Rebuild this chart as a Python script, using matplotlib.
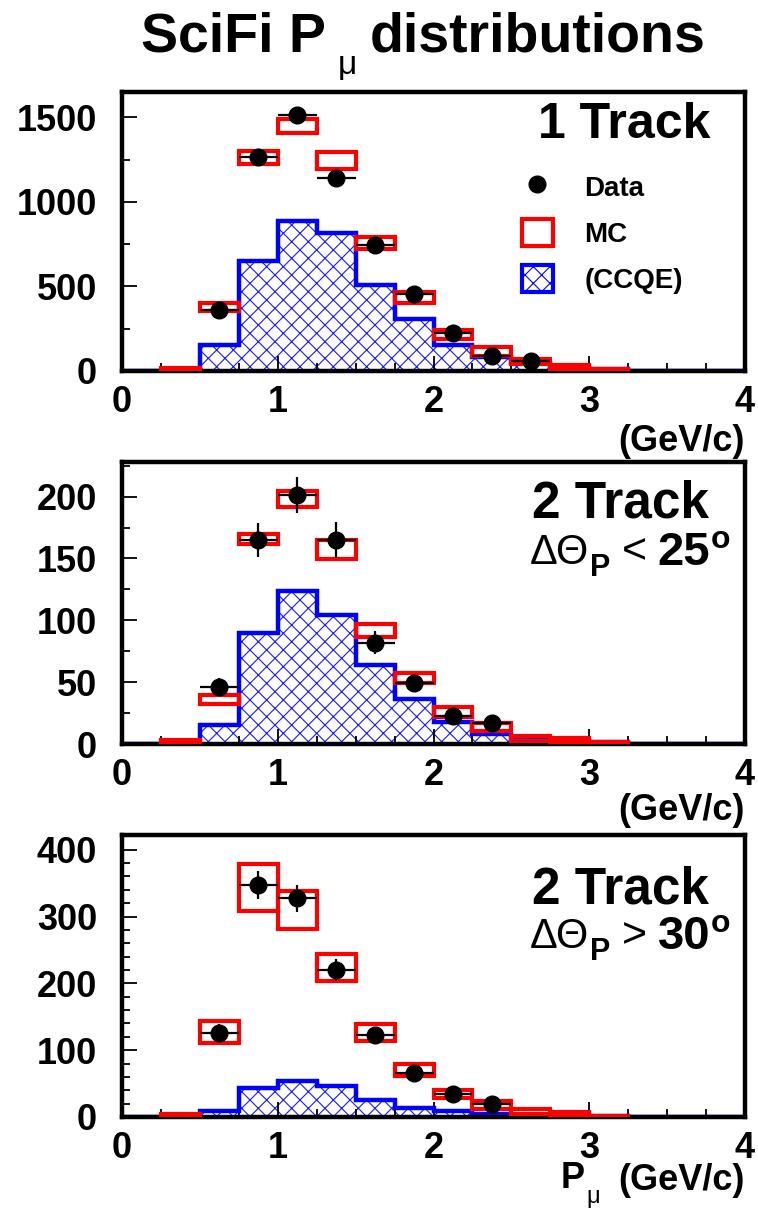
import numpy as np
import matplotlib
matplotlib.use("Agg")
import matplotlib.pyplot as plt
from matplotlib.lines import Line2D
from matplotlib.patches import Patch
from matplotlib.ticker import MultipleLocator

plt.rcParams['font.family'] = ['Liberation Sans', 'DejaVu Sans']
plt.rcParams['font.weight'] = 'bold'
plt.rcParams['hatch.linewidth'] = 0.8

# ---------------- data ----------------
bin_edges = [0.0, 0.25, 0.5, 0.75, 1.0, 1.25, 1.5, 1.75, 2.0, 2.25, 2.5, 2.75, 3.0, 3.25, 3.5, 3.75, 4.0]
data_x = [0.625, 0.875, 1.125, 1.375, 1.625, 1.875, 2.125, 2.375, 2.625]

# 1 Track
data1 = [362, 1265, 1512, 1142, 743, 456, 223, 91, 59]
data1_err = [19, 36, 39, 34, 27, 21, 15, 10, 8]
mc1 = [0, 12, 377, 1263, 1449, 1245, 757, 435, 217, 115, 55, 24, 6, 0, 0, 0]
mc1_err = [0, 8, 25, 38, 43, 52, 33, 32, 27, 24, 16, 12, 4, 0, 0, 0]
ccqe1 = [0, 0, 154, 648, 886, 816, 510, 308, 154, 85, 45, 20, 10, 2, 0, 0]

# 2 Track, dTheta < 25
data2 = [46, 165, 201, 165, 82, 49.5, 23, 17]
data2_err = [7, 14, 14.6, 14.6, 9.5, 7, 5, 4]
mc2 = [0, 2, 36, 165.5, 198, 157, 92, 53.5, 26, 13.5, 4.6, 3.5, 1, 0, 0, 0]
mc2_err = [0, 1.5, 3.5, 4, 6.5, 7.7, 5.4, 4.3, 3.8, 3.2, 2, 1.5, 0.5, 0, 0, 0]
ccqe2 = [0, 0, 15, 90, 124, 104, 64, 36.5, 18, 8, 4, 2.7, 1.6, 0, 0, 0]

# 2 Track, dTheta > 30
data3 = [125.5, 347.5, 327.5, 220, 122.5, 65.5, 34, 20]
data3_err = [13.5, 21, 20, 16, 11, 8, 6, 4.5]
mc3 = [0, 3, 127, 343, 309.5, 224, 126, 70, 34.5, 18, 8, 5, 1, 0, 0, 0]
mc3_err = [0, 2, 17, 35, 28.5, 20, 13, 9, 5.5, 6, 4, 3, 0.5, 0, 0, 0]
ccqe3 = [0, 0.5, 9, 44, 54, 46, 26, 14, 9, 4, 3, 2, 1, 0, 0, 0]

y_limits = [1650, 228, 422]
y_major = [500, 50, 100]
y_minor = [250, 25, 20]
x_ticks = [0, 1, 2, 3, 4]
legend_labels = ['Data', 'MC', '(CCQE)']
cut_signs = ['<', '>']
cut_values = ['25', '30']

# ---------------- figure ----------------
W, H = 758, 1213
fig = plt.figure(figsize=(W / 100, H / 100), dpi=100)

def ax_rect(top, bottom, left=122, right=745):
    return [left / W, 1 - bottom / H, (right - left) / W, (bottom - top) / H]

def fx(px):
    return px / W

def fy(py):
    return 1 - py / H

rects = [ax_rect(92, 371), ax_rect(462, 744), ax_rect(835, 1117)]
panels = [
    (data1, data1_err, mc1, mc1_err, ccqe1),
    (data2, data2_err, mc2, mc2_err, ccqe2),
    (data3, data3_err, mc3, mc3_err, ccqe3),
]

edges = np.array(bin_edges)
centers = 0.5 * (edges[:-1] + edges[1:])
widths = np.diff(edges)
axes = []
for i, (rect, (d, de, mc, mce, cq)) in enumerate(zip(rects, panels)):
    ax = fig.add_axes(rect)
    axes.append(ax)
    # CCQE hatched histogram
    ax.stairs(cq, edges, fill=True, facecolor='white', edgecolor='#1a1aff',
              hatch='xx', linewidth=0, zorder=1)
    ax.stairs(cq, edges, color='#0000ff', linewidth=3.2, zorder=2, baseline=None)
    # MC boxes
    mc = np.array(mc, float)
    mce = np.array(mce, float)
    m = mce > 0
    ax.bar(centers[m], 2 * mce[m], bottom=(mc - mce)[m], width=widths[m],
           fill=False, edgecolor='#ff0000', linewidth=3.0, zorder=3)
    # data
    n = len(d)
    ax.errorbar(data_x[:n], d, yerr=de, xerr=0.125, fmt='o', color='black',
                markersize=12, elinewidth=1.6, capsize=0, zorder=4)
    ax.set_xlim(0, 4)
    ax.set_ylim(0, y_limits[i])
    ax.xaxis.set_major_locator(MultipleLocator(1))
    ax.xaxis.set_minor_locator(MultipleLocator(0.25))
    ax.yaxis.set_major_locator(MultipleLocator(y_major[i]))
    ax.yaxis.set_minor_locator(MultipleLocator(y_minor[i]))
    ax.set_xticks(x_ticks)
    ax.tick_params(which='both', direction='in', top=False, right=False, width=1.3)
    ax.tick_params(which='major', length=11, labelsize=26, pad=10)
    ax.tick_params(which='minor', length=6)
    ax.tick_params(axis='y', which='major', pad=18)
    for s in ax.spines.values():
        s.set_linewidth(3.2)
    for lab in ax.get_xticklabels() + ax.get_yticklabels():
        lab.set_fontweight('bold')

# x labels
fig.text(fx(745), fy(441), '(GeV/c)', ha='right', va='center', fontsize=26, fontweight='bold')
fig.text(fx(745), fy(811), '(GeV/c)', ha='right', va='center', fontsize=26, fontweight='bold')
fig.text(fx(745), fy(1180), '(GeV/c)', ha='right', va='center', fontsize=26, fontweight='bold')
fig.text(fx(585), fy(1178), 'P', ha='right', va='center', fontsize=26, fontweight='bold')
fig.text(fx(593), fy(1197), 'μ', ha='center', va='center', fontsize=17, fontweight='normal')

# panel labels
axes[0].text(0.944, 0.88, '1 Track', transform=axes[0].transAxes, ha='right', va='center',
             fontsize=36, fontweight='bold')
axes[1].text(0.658, 0.852, '2 Track', transform=axes[1].transAxes, ha='left', va='center',
             fontsize=37, fontweight='bold')
axes[2].text(0.658, 0.806, '2 Track', transform=axes[2].transAxes, ha='left', va='center',
             fontsize=37, fontweight='bold')

# cut labels (ΔΘ_P < 25°, ΔΘ_P > 30°) built from pieces placed one after another
renderer = fig.canvas.get_renderer()

def chain(x0, base_y, pieces):
    x = x0
    for txt, size, weight, dy, gap in pieces:
        x += gap
        t = fig.text(fx(x), fy(base_y + dy), txt, ha='left', va='baseline',
                     fontsize=size, fontweight=weight)
        bb = t.get_window_extent(renderer=renderer)
        x += bb.width

for base_y, sign, val in zip([564, 948], cut_signs, cut_values):
    chain(530, base_y, [
        ('ΔΘ', 30, 'normal', 0, 0),
        ('P', 22, 'bold', 12, 1),
        (sign, 31, 'normal', -1, 11),
        (val, 34, 'bold', 1, 11),
        ('o', 23, 'bold', -16, 1),
    ])

# legend
handles = [
    Line2D([], [], marker='o', linestyle='none', color='black', markersize=12),
    Patch(facecolor='white', edgecolor='#ff0000', linewidth=3),
    Patch(facecolor='white', edgecolor='#0000ff', hatch='xx', linewidth=3),
]
leg = axes[0].legend(handles, legend_labels, loc='upper left',
                     bbox_to_anchor=(0.642, 0.71), frameon=False, fontsize=20,
                     handlelength=1.1, handleheight=1.1, handletextpad=1.15,
                     labelspacing=0.62, borderpad=0, borderaxespad=0)
for t in leg.get_texts():
    t.set_fontweight('bold')

# title
fig.text(fx(326), fy(38), 'SciFi P', ha='right', va='center', fontsize=40, fontweight='bold')
fig.text(fx(347), fy(66), 'μ', ha='center', va='center', fontsize=24, fontweight='normal')
fig.text(fx(370), fy(38), 'distributions', ha='left', va='center', fontsize=40, fontweight='bold')

fig.savefig('out.png', dpi=100)
